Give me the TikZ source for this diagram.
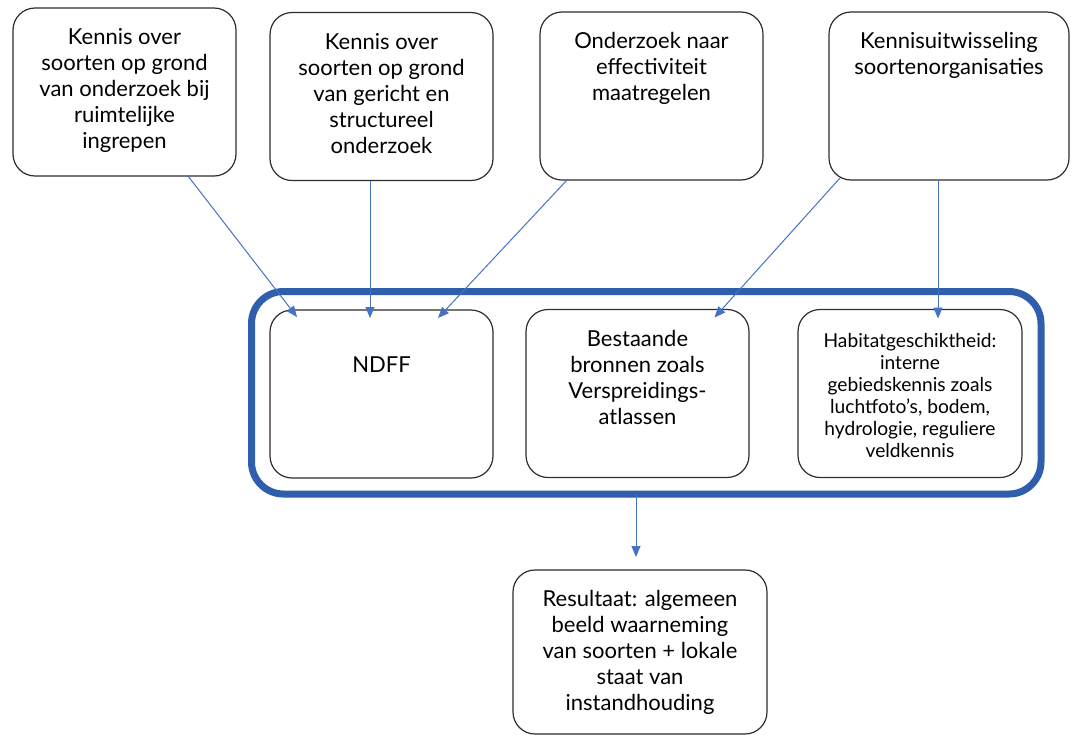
\documentclass[tikz,border=0pt]{standalone}
\usepackage{fontspec}
\setmainfont{Lato}
\usetikzlibrary{arrows.meta}

\definecolor{kaderblauw}{RGB}{47,94,172}
\definecolor{pijlblauw}{RGB}{68,114,196}
\definecolor{lijngrijs}{RGB}{45,45,45}

\tikzset{
    vak/.style={draw=lijngrijs, line width=0.6pt, rounded corners=11pt, outer sep=0pt, inner sep=0pt,
        minimum width=111.5pt, minimum height=84pt},
    tekst/.style={anchor=north, align=center, text=black, font=\fontsize{11}{13}\selectfont, yshift=-6.8pt},
    pijl/.style={-{Triangle[length=5.5pt, width=4.5pt]}, pijlblauw, line width=0.5pt},
}

\begin{document}
\begin{tikzpicture}[x=0.5pt, y=-0.5pt]
    \useasboundingbox (0,0) rectangle (1072,735);

    % bronnen van kennis (boven)
    \node[vak, label={[tekst]north:{Kennis over\\soorten op grond\\van onderzoek bij\\ruimtelijke\\ingrepen}}] (ruimte) at (124.5,92) {};
    \node[vak, label={[tekst]north:{Kennis over\\soorten op grond\\van gericht en\\structureel\\onderzoek}}] (gericht) at (381.5,96.5) {};
    \node[vak, label={[tekst]north:{Onderzoek naar\\effectiviteit\\maatregelen}}] (effect) at (651.5,96) {};
    \node[vak, minimum width=120pt, label={[tekst]north:{Kennisuitwisseling\\soortenorganisaties}}] (uitwisseling) at (949,96) {};

    % kader met de gegevensbronnen
    \node[draw=kaderblauw, line width=3.5pt, rounded corners=16pt, outer sep=0pt,
        minimum width=394.75pt, minimum height=101.25pt] (kader) at (646.25,392.75) {};
    \node[vak, label={[tekst, yshift=-13pt]north:{NDFF}}] (ndff) at (381.5,394) {};
    \node[vak, label={[tekst]north:{Bestaande\\bronnen zoals\\Verspreidings-\\atlassen}}] (bronnen) at (637.5,393.5) {};
    \node[vak, minimum width=112pt,
        label={[tekst, font=\fontsize{9.6}{11}\selectfont, yshift=-1.5pt]north:{Habitatgeschiktheid:\\interne\\gebiedskennis zoals\\luchtfoto’s, bodem,\\hydrologie, reguliere\\veldkennis}}] (habitat) at (910,393.5) {};

    % resultaat
    \node[vak, minimum width=127pt, minimum height=82pt,
        label={[tekst]north:{Resultaat: algemeen\\beeld waarneming\\van soorten + lokale\\staat van\\instandhouding}}] (resultaat) at (640,652) {};

    % pijlen
    \draw[pijl] ([shift={(63.5,0)}]ruimte.south) -- ([shift={(-84.5,7)}]ndff.north);
    \draw[pijl] ([shift={(-11.5,0)}]gericht.south) -- ([shift={(-11.5,8)}]ndff.north);
    \draw[pijl] ([shift={(-84.5,0)}]effect.south) -- ([shift={(56.5,8)}]ndff.north);
    \draw[pijl] ([shift={(-109,-2)}]uitwisseling.south) -- ([shift={(77,8)}]bronnen.north);
    \draw[pijl] ([shift={(-11,0)}]uitwisseling.south) -- ([shift={(28,9)}]habitat.north);
    \draw[pijl] ([shift={(-10.25,0)}]kader.south) -- ([shift={(-4,-13)}]resultaat.north);
\end{tikzpicture}
\end{document}
